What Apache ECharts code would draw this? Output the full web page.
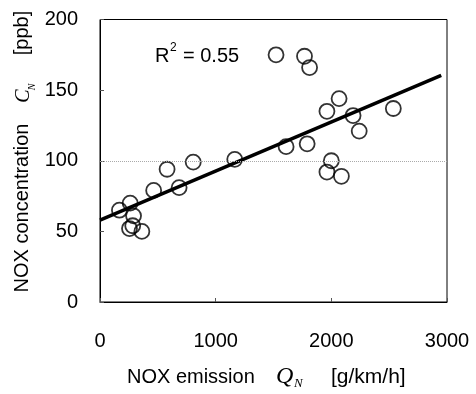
<!DOCTYPE html>
<html><head><meta charset="utf-8">
<script src="https://cdn.jsdelivr.net/npm/echarts@6/dist/echarts.min.js"></script>
<style>html,body{margin:0;padding:0;background:#fff}#c{width:476px;height:394px}</style>
</head><body><div id="c"></div>
<script>
// NOx emission Q_N [g/km/h]
const emission = [168, 261, 290, 255, 283, 362, 464, 580, 684, 806, 1165, 1522, 1609, 1768, 1812, 1791, 1962, 2067, 2188, 2241, 2000, 1962, 2087, 2536];
// NOx concentration C_N [ppb]
const concentration = [65, 70, 61, 52, 54, 50, 79, 94, 81, 99, 101, 175, 110, 174, 166, 112, 135, 144, 132, 121, 100, 92, 89, 137];
// regression line end points
const fitX = [0, 2950];
const fitY = [58, 160.4];
const xTicks = [0, 1000, 2000, 3000];
const yTicks = [0, 50, 100, 150, 200];
const r2Label = '0.55';

const FONT = '"Liberation Sans", Arial, sans-serif';
const SERIF = '"Liberation Serif", "DejaVu Serif", serif';
const chart = echarts.init(document.getElementById('c'));
chart.setOption({
  animation: false,
  backgroundColor: '#fff',
  grid: {left: 100, right: 29, top: 19.5, bottom: 92, show: true, borderColor: '#000', borderWidth: 1, backgroundColor: 'transparent'},
  xAxis: {
    type: 'value', min: xTicks[0], max: xTicks[xTicks.length - 1], interval: 1000,
    axisLine: {show: true, lineStyle: {color: '#000', width: 1}},
    axisTick: {show: true, inside: true, length: 4, lineStyle: {color: '#555'}},
    splitLine: {show: false},
    axisLabel: {color: '#000', fontSize: 20, fontFamily: FONT, margin: 29, formatter: v => String(v)}
  },
  yAxis: {
    type: 'value', min: yTicks[0], max: yTicks[yTicks.length - 1], interval: 50,
    axisLine: {show: true, lineStyle: {color: '#000', width: 1}},
    axisTick: {show: true, inside: true, length: 4, lineStyle: {color: '#555'}},
    splitLine: {show: false},
    axisLabel: {color: '#000', fontSize: 20, fontFamily: FONT, margin: 22, formatter: v => String(v)}
  },
  series: [
    {
      type: 'line', data: fitX.map((x, i) => [x, fitY[i]]), showSymbol: false, symbol: 'none',
      lineStyle: {color: '#000', width: 3.5}, z: 3,
      markLine: {silent: true, symbol: 'none', label: {show: false},
        lineStyle: {color: '#aaa', type: 'dotted', width: 1}, data: [{yAxis: 100}]}
    },
    {
      type: 'scatter', data: emission.map((x, i) => [x, concentration[i]]),
      symbol: 'circle', symbolSize: 15,
      itemStyle: {color: 'rgba(255,255,255,0)', borderColor: '#000', borderWidth: 1.8}, z: 4
    }
  ],
  graphic: [
    {type: 'text', left: 155, top: 46, style: {text: 'R', font: '20px ' + FONT, fill: '#000'}},
    {type: 'text', left: 170, top: 42, style: {text: '2', font: '12px ' + FONT, fill: '#000'}},
    {type: 'text', left: 183, top: 46, style: {text: '= ' + r2Label, font: '20px ' + FONT, fill: '#000'}},
    // y axis title (rotated)
    {type: 'text', x: 22, y: 208, rotation: Math.PI / 2, style: {text: 'NOX concentration', font: '20px ' + FONT, fill: '#000', textAlign: 'center', textVerticalAlign: 'middle'}},
    {type: 'text', x: 24, y: 96, rotation: Math.PI / 2, style: {text: 'C', font: 'italic 20px ' + SERIF, fill: '#000', textAlign: 'center', textVerticalAlign: 'middle'}},
    {type: 'text', x: 32, y: 87, rotation: Math.PI / 2, style: {text: 'N', font: 'italic 10px ' + SERIF, fill: '#000', textAlign: 'center', textVerticalAlign: 'middle'}},
    {type: 'text', x: 22, y: 33, rotation: Math.PI / 2, style: {text: '[ppb]', font: '20px ' + FONT, fill: '#000', textAlign: 'center', textVerticalAlign: 'middle'}},
    // x axis title
    {type: 'text', x: 127, y: 377, style: {text: 'NOX emission', font: '20px ' + FONT, fill: '#000', textAlign: 'left', textVerticalAlign: 'middle'}},
    {type: 'text', x: 276, y: 377, style: {text: 'Q', font: 'italic 24px ' + SERIF, fill: '#000', textAlign: 'left', textVerticalAlign: 'middle'}},
    {type: 'text', x: 294, y: 384, style: {text: 'N', font: 'italic 13px ' + SERIF, fill: '#000', textAlign: 'left', textVerticalAlign: 'middle'}},
    {type: 'text', x: 331, y: 377, style: {text: '[g/km/h]', font: '21px ' + FONT, fill: '#000', textAlign: 'left', textVerticalAlign: 'middle'}}
  ]
});
</script></body></html>
